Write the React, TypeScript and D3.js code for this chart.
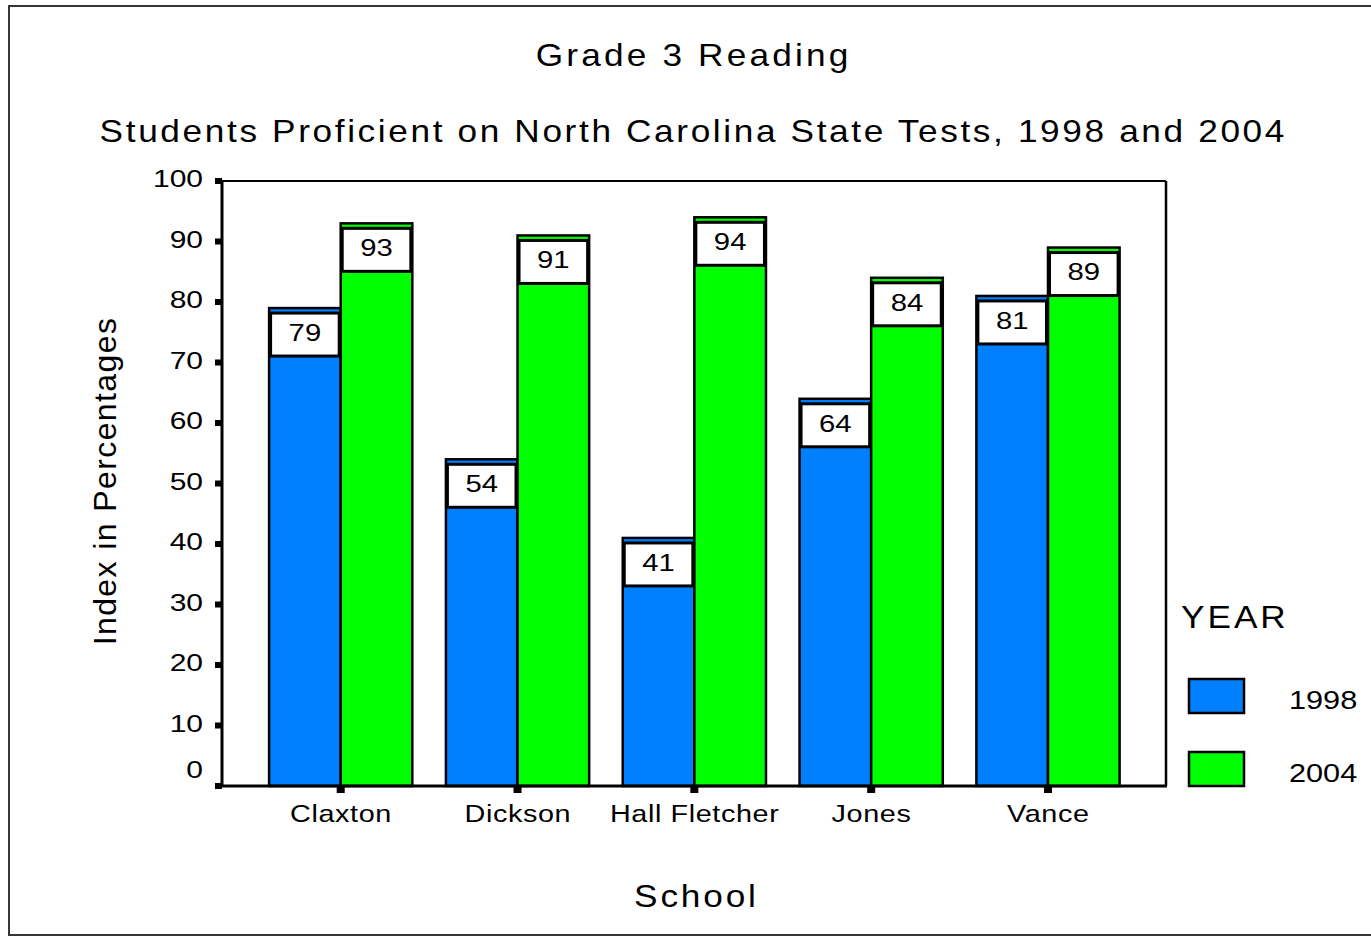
import React from "react";
import * as d3 from "d3";

const schools = ["Claxton", "Dickson", "Hall Fletcher", "Jones", "Vance"];
const years = ["1998", "2004"];
const values1998 = [79, 54, 41, 64, 81];
const values2004 = [93, 91, 94, 84, 89];
const yTicks = [0, 10, 20, 30, 40, 50, 60, 70, 80, 90, 100];
const colors = ["#0080FF", "#00FF00"];

const W = 1371;
const H = 937;
const FONT = "Liberation Sans, Arial, Helvetica, sans-serif";

type TProps = {
  x: number;
  y: number;
  sx?: number;
  ls?: number;
  size: number;
  anchor?: "start" | "middle" | "end";
  baseline?: string;
  children: React.ReactNode;
};

// sx: horizontal stretch; ls: letter spacing (compensated for anchor)
function T({ x, y, sx = 1, ls = 0, size, anchor = "start", baseline, children }: TProps) {
  const shift = anchor === "middle" ? (ls * sx) / 2 : anchor === "end" ? ls * sx : 0;
  return (
    <text
      transform={`translate(${x + shift},${y}) scale(${sx},1)`}
      textAnchor={anchor}
      dominantBaseline={baseline}
      fontSize={size}
      letterSpacing={ls}
      fill="#000"
    >
      {children}
    </text>
  );
}

export default function App() {
  const plotLeft = 222;
  const plotRight = 1166;
  const plotTop = 181;
  const plotBottom = 786;

  const y = d3.scaleLinear().domain([0, 100]).range([plotBottom, plotTop]);
  const x = d3
    .scaleBand<string>()
    .domain(schools)
    .range([252.3, 1136.4])
    .paddingInner(0.19)
    .paddingOuter(0.095);
  const xs = d3.scaleBand<string>().domain(years).range([0, x.bandwidth()]);
  const series = [values1998, values2004];

  return (
    <svg
      width={W}
      height={H}
      style={{ position: "absolute", left: 0, top: 0, background: "#fff" }}
      fontFamily={FONT}
    >
      <rect x={0} y={0} width={W} height={H} fill="#fff" />
      <rect x={9} y={6} width={W + 20} height={929} fill="none" stroke="#222" strokeWidth={1.8} />

      <T x={692} y={66} sx={1.1} ls={2.9} size={32} anchor="middle">
        Grade 3 Reading
      </T>
      <T x={692} y={142} sx={1.1} ls={2.4} size={32} anchor="middle">
        Students Proficient on North Carolina State Tests, 1998 and 2004
      </T>

      {/* plot frame top & right */}
      <line x1={plotLeft} x2={plotRight} y1={plotTop} y2={plotTop} stroke="#000" strokeWidth={2} />
      <line x1={plotRight} x2={plotRight} y1={plotTop} y2={plotBottom} stroke="#000" strokeWidth={2.5} />

      {/* bars */}
      {schools.map((s, i) =>
        years.map((yr, j) => {
          const v = series[j][i];
          const bx = (x(s) as number) + (xs(yr) as number);
          const bw = xs.bandwidth();
          const by = y(v);
          return (
            <g key={s + yr}>
              <rect
                x={bx}
                y={by}
                width={bw}
                height={plotBottom - by}
                fill={colors[j]}
                stroke="#000"
                strokeWidth={2.5}
              />
              <rect
                x={bx + 1.5}
                y={by + 5}
                width={bw - 3}
                height={43}
                fill="#fff"
                stroke="#000"
                strokeWidth={3}
              />
              <T x={bx + bw / 2} y={by + 26.5} sx={1.22} size={24} anchor="middle" baseline="middle">
                {v}
              </T>
            </g>
          );
        })
      )}

      {/* y axis */}
      <line x1={plotLeft} x2={plotLeft} y1={plotTop - 1} y2={plotBottom + 1} stroke="#000" strokeWidth={3} />
      {yTicks.map((t) => (
        <g key={t}>
          <rect x={plotLeft - 7} y={y(t) - 3} width={7} height={6} fill="#000" />
          <T x={203} y={t === 0 ? y(t) - 14 : y(t)} sx={1.25} size={24} anchor="end" baseline="middle">
            {t}
          </T>
        </g>
      ))}

      {/* x axis */}
      <line x1={plotLeft - 7} x2={plotRight + 1} y1={plotBottom} y2={plotBottom} stroke="#000" strokeWidth={3} />
      {schools.map((s) => {
        const cx = (x(s) as number) + x.bandwidth() / 2;
        return (
          <g key={s}>
            <rect x={cx - 4} y={plotBottom} width={8} height={7} fill="#000" />
            <T x={cx} y={822} sx={1.2} ls={0.5} size={24} anchor="middle">
              {s}
            </T>
          </g>
        );
      })}

      <T x={695} y={907} sx={1.1} ls={2.6} size={32} anchor="middle">
        School
      </T>
      <text
        transform="translate(116,481) rotate(-90)"
        textAnchor="middle"
        fontSize={32}
        letterSpacing={1.4}
        fill="#000"
      >
        Index in Percentages
      </text>

      {/* legend */}
      <T x={1181} y={628} sx={1.1} ls={2.7} size={32}>
        YEAR
      </T>
      {years.map((yr, j) => (
        <g key={yr}>
          <rect
            x={1189}
            y={679 + j * 73}
            width={55}
            height={34}
            fill={colors[j]}
            stroke="#000"
            strokeWidth={2.5}
          />
          <T x={1289} y={709 + j * 73} sx={1.18} size={26}>
            {yr}
          </T>
        </g>
      ))}
    </svg>
  );
}
